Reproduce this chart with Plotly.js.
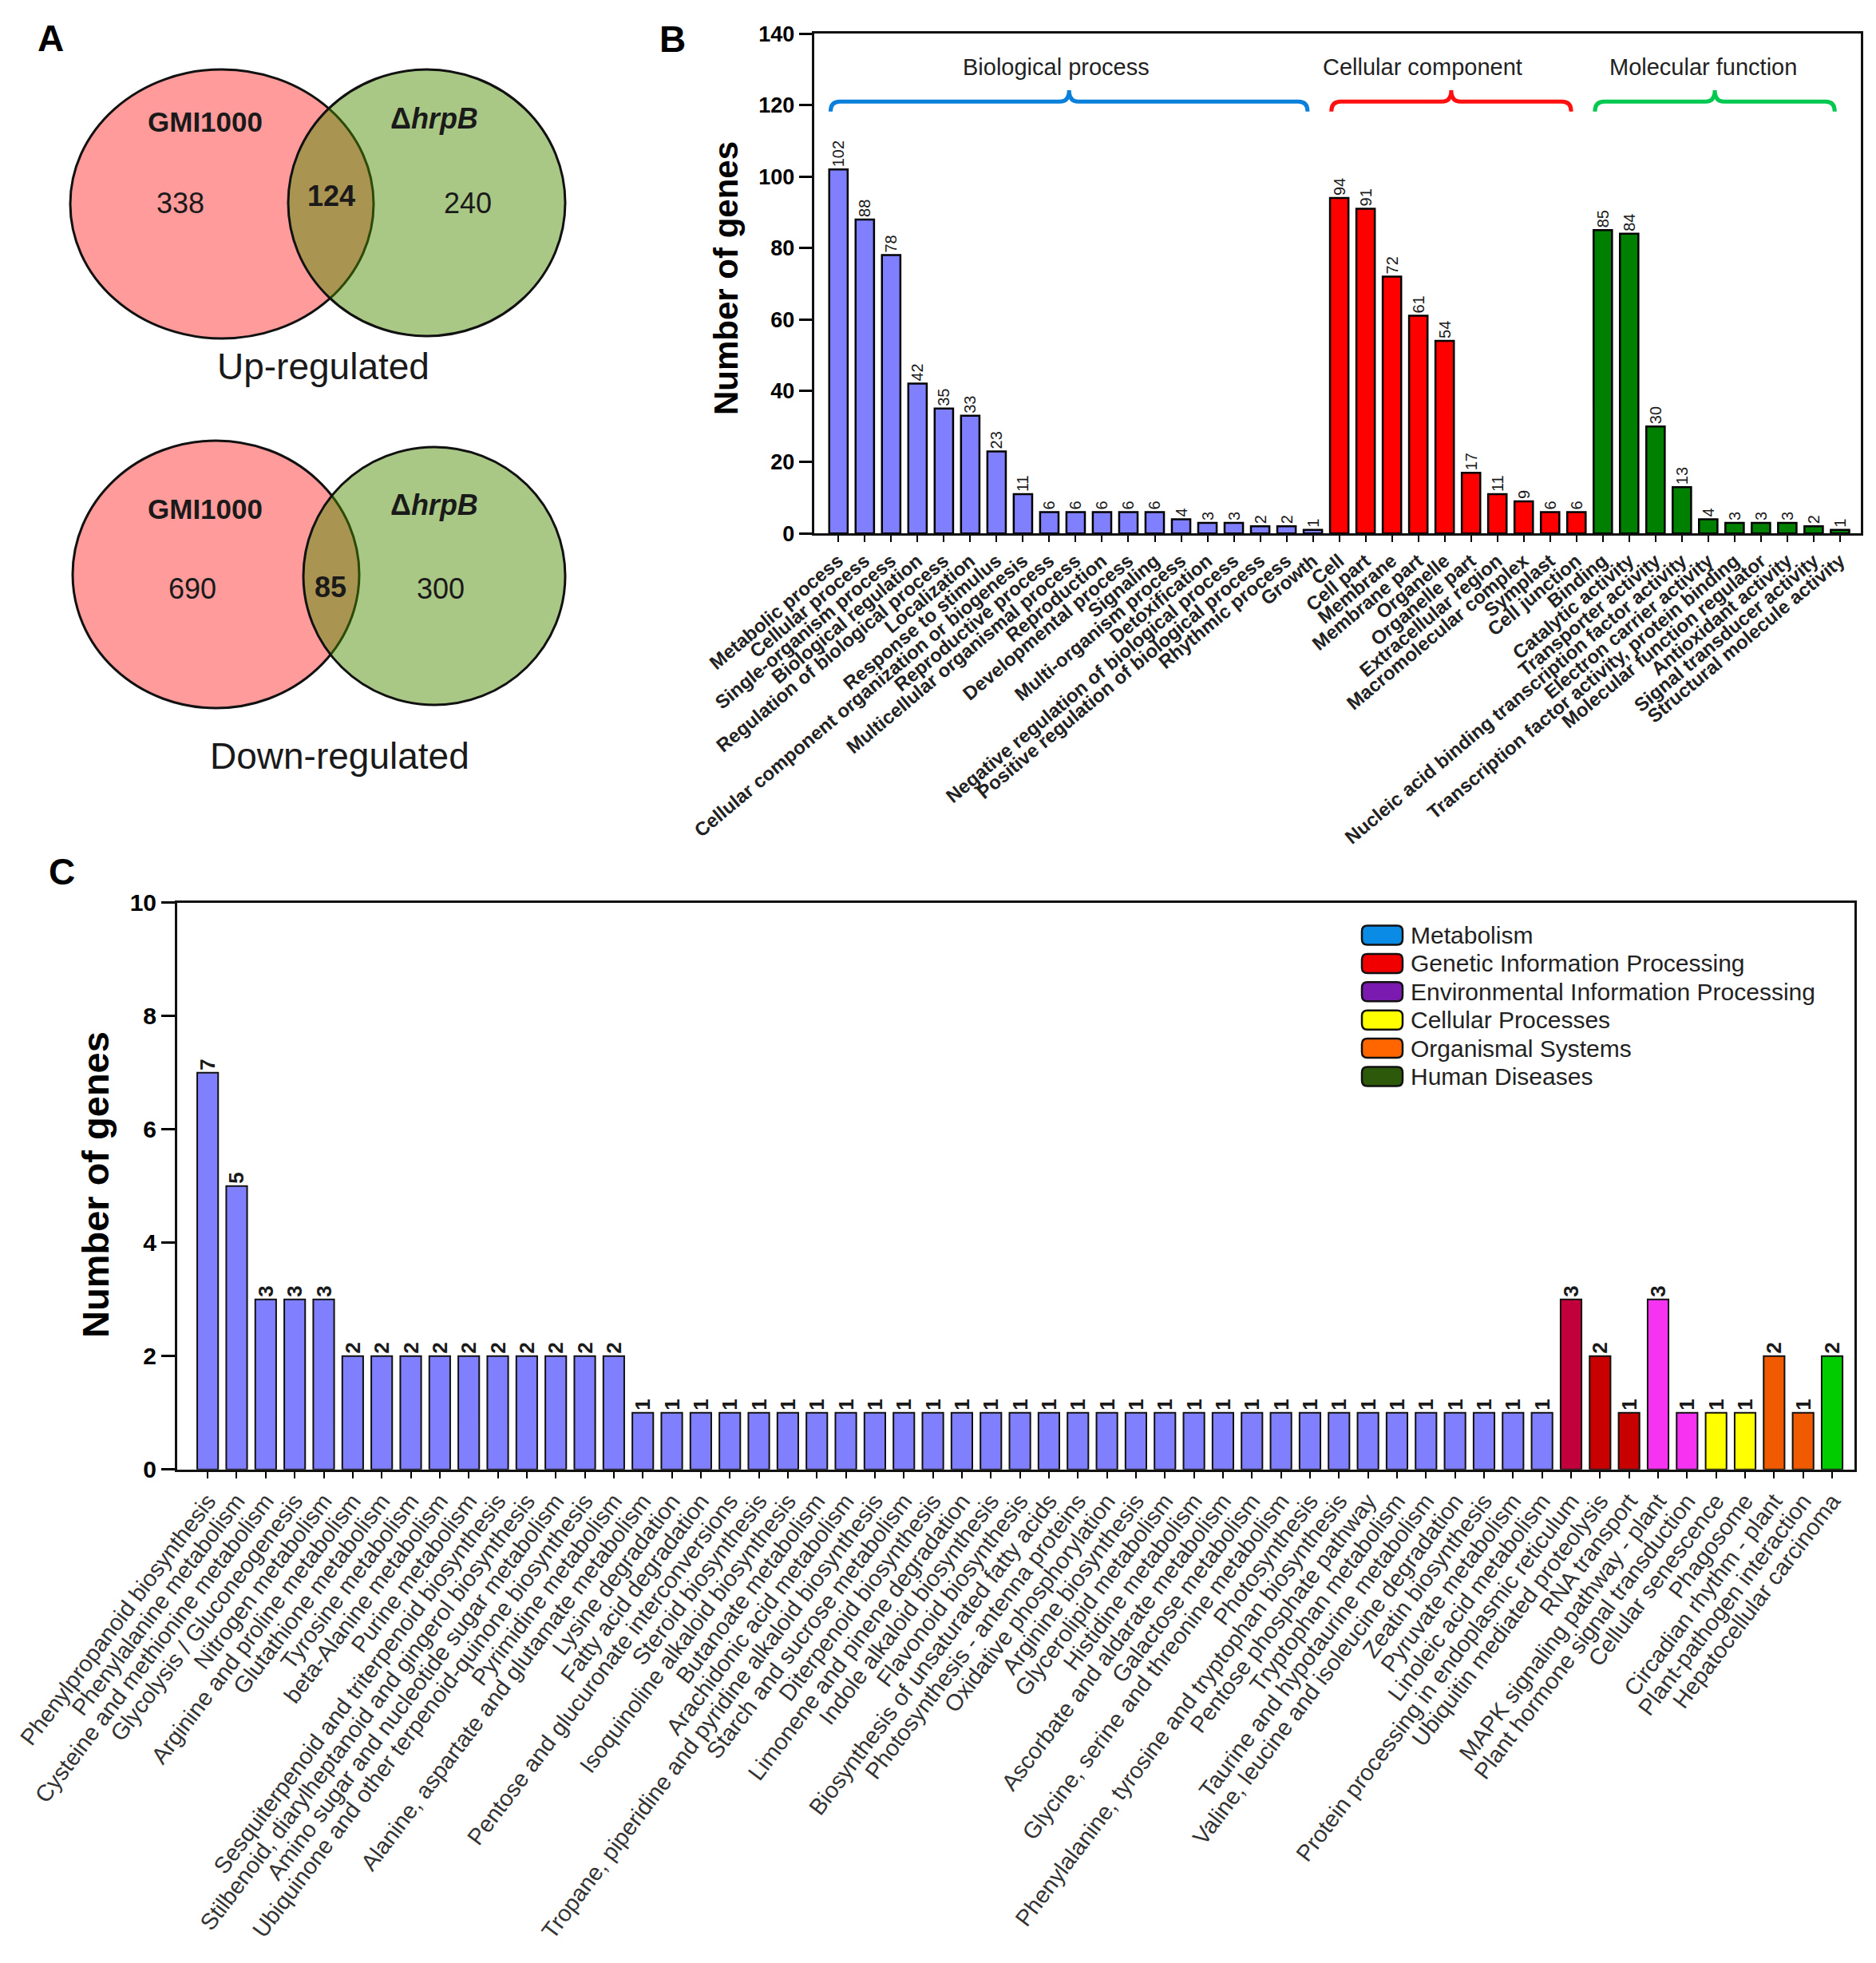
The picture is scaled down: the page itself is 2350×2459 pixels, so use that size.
<!DOCTYPE html>
<html><head><meta charset="utf-8">
<script src="https://cdn.plot.ly/plotly-3.0.1.min.js"></script>
<style>html,body{margin:0;padding:0;background:#fff}#chart{width:2350px;height:2459px}</style>
</head><body><div id="chart"></div>
<script>
// ---------------- DATA ----------------
// Panel A: Venn counts [GMI1000 only, shared, ΔhrpB only]
const vennSetNames = ['GMI1000', 'ΔhrpB'];
const vennUpCounts = [338, 124, 240];
const vennDownCounts = [690, 85, 300];
const vennTitles = ['Up-regulated', 'Down-regulated'];

// Panel B: GO classification
const goGroupNames = ['Biological process', 'Cellular component', 'Molecular function'];
const bpTerms = ['Metabolic process','Cellular process','Single-organism process','Biological regulation',
  'Regulation of biological process','Localization','Response to stimulus',
  'Cellular component organization or biogenesis','Reproductive process','Multicellular organismal process',
  'Reproduction','Developmental process','Signaling','Multi-organism process','Detoxification',
  'Negative regulation of biological process','Positive regulation of biological process','Rhythmic process','Growth'];
const bpCounts = [102, 88, 78, 42, 35, 33, 23, 11, 6, 6, 6, 6, 6, 4, 3, 3, 2, 2, 1];
const ccTerms = ['Cell','Cell part','Membrane','Membrane part','Organelle','Organelle part',
  'Extracellular region','Macromolecular complex','Symplast','Cell junction'];
const ccCounts = [94, 91, 72, 61, 54, 17, 11, 9, 6, 6];
const mfTerms = ['Binding','Catalytic activity','Transporter activity',
  'Nucleic acid binding transcription factor activity','Electron carrier activity',
  'Transcription factor activity, protein binding','Molecular function regulator',
  'Antioxidant activity','Signal transducer activity','Structural molecule activity'];
const mfCounts = [85, 84, 30, 13, 4, 3, 3, 3, 2, 1];

// Panel C: KEGG pathways
const keggPathways = ['Phenylpropanoid biosynthesis','Phenylalanine metabolism','Cysteine and methionine metabolism',
  'Glycolysis / Gluconeogenesis','Nitrogen metabolism','Arginine and proline metabolism','Glutathione metabolism',
  'Tyrosine metabolism','beta-Alanine metabolism','Purine metabolism','Sesquiterpenoid and triterpenoid biosynthesis',
  'Stilbenoid, diarylheptanoid and gingerol biosynthesis','Amino sugar and nucleotide sugar metabolism',
  'Ubiquinone and other terpenoid-quinone biosynthesis','Pyrimidine metabolism',
  'Alanine, aspartate and glutamate metabolism','Lysine degradation','Fatty acid degradation',
  'Pentose and glucuronate interconversions','Steroid biosynthesis','Isoquinoline alkaloid biosynthesis',
  'Butanoate metabolism','Arachidonic acid metabolism','Tropane, piperidine and pyridine alkaloid biosynthesis',
  'Starch and sucrose metabolism','Diterpenoid biosynthesis','Limonene and pinene degradation',
  'Indole alkaloid biosynthesis','Flavonoid biosynthesis','Biosynthesis of unsaturated fatty acids',
  'Photosynthesis - antenna proteins','Oxidative phosphorylation','Arginine biosynthesis','Glycerolipid metabolism',
  'Histidine metabolism','Ascorbate and aldarate metabolism','Galactose metabolism',
  'Glycine, serine and threonine metabolism','Photosynthesis','Phenylalanine, tyrosine and tryptophan biosynthesis',
  'Pentose phosphate pathway','Tryptophan metabolism','Taurine and hypotaurine metabolism',
  'Valine, leucine and isoleucine degradation','Zeatin biosynthesis','Pyruvate metabolism',
  'Linoleic acid metabolism','Protein processing in endoplasmic reticulum','Ubiquitin mediated proteolysis',
  'RNA transport','MAPK signaling pathway - plant','Plant hormone signal transduction','Cellular senescence',
  'Phagosome','Circadian rhythm - plant','Plant-pathogen interaction','Hepatocellular carcinoma'];
const keggCounts = [7,5,3,3,3,2,2,2,2,2,2,2,2,2,2,
  1,1,1,1,1,1,1,1,1,1,1,1,1,1,1,1,1,1,1,1,1,1,1,1,1,1,1,1,1,1,1,1,
  3,2,1,3,1,1,1,2,1,2];
const keggClassNames = ['Metabolism','Genetic Information Processing','Environmental Information Processing',
  'Cellular Processes','Organismal Systems','Human Diseases'];
const keggClassSizes = [47, 3, 2, 2, 2, 1];   // number of pathways of each class, in order

// ---------------- STYLE / GEOMETRY ----------------
const W = 2350, H = 2459;
const px = x => x / W, py = y => 1 - y / H;
const FONT = 'Liberation Sans, Arial, Helvetica, sans-serif';
const INK = '#1a1a1a';
const goColors = ['#8080FF', '#FF0000', '#008000'];
const braceColors = ['#0A80DA', '#FF1010', '#00C850'];
const braceTextShift = [-0.5, -1.1, -0.45];
const keggBarColors = [['#8080FF'], ['#C2003C', '#C80000', '#C80000'], ['#F533F0', '#F533F0'],
  ['#FFFF00', '#FFFF00'], ['#F05A00', '#F05A00'], ['#00CC00']];
const keggLegendColors = ['#0A8CE6', '#F00000', '#7A1AAE', '#FFFF00', '#FF6600', '#2D5A0A'];

// ---------------- TRACES ----------------
const traces = [];
const goTerms = [bpTerms, ccTerms, mfTerms];
const goCounts = [bpCounts, ccCounts, mfCounts];
let start = 0;
const goStarts = [];
goTerms.forEach((terms, g) => {
  const xs = terms.map((_, i) => start + i);
  goStarts.push(start);
  traces.push({
    type: 'bar', x: xs, y: goCounts[g], xaxis: 'x', yaxis: 'y', width: 0.7,
    marker: {color: goColors[g], line: {color: '#000', width: 2.5}},
    text: goCounts[g].map(String), textposition: 'outside', textangle: -90, constraintext: 'none',
    textfont: {family: FONT, size: 20, color: INK}, cliponaxis: false, showlegend: false, hoverinfo: 'x+y'
  });
  start += terms.length;
});
const goAllTerms = [].concat(...goTerms);

let kStart = 0;
keggClassSizes.forEach((n, c) => {
  const idx = Array.from({length: n}, (_, i) => kStart + i);
  traces.push({
    type: 'bar', x: idx, y: idx.map(i => keggCounts[i]), xaxis: 'x2', yaxis: 'y2', width: 0.72,
    marker: {color: idx.map((_, k) => keggBarColors[c][Math.min(k, keggBarColors[c].length - 1)]),
             line: {color: '#111', width: 2}},
    text: idx.map(i => String(keggCounts[i])), textposition: 'outside', textangle: -90, constraintext: 'none',
    textfont: {family: FONT, size: 26, color: INK, weight: 700}, cliponaxis: false, showlegend: false,
    name: keggClassNames[c]
  });
  kStart += n;
});

// ---------------- SHAPES & ANNOTATIONS ----------------
const shapes = [];
const annotations = [];
function label(text, x, y, size, extra) {
  return Object.assign({text: text, xref: 'paper', yref: 'paper', x: px(x), y: py(y), showarrow: false,
    xanchor: 'center', yanchor: 'middle', font: {family: FONT, size: size, color: INK}}, extra || {});
}

// Panel letters
[['A', 63, 48], ['B', 842, 49], ['C', 78, 1092]].forEach(([t, x, y]) =>
  annotations.push(label(t, x, y, 46, {font: {family: FONT, size: 46, color: '#000', weight: 700}})));

// Venn diagrams
const vennGeom = [
  {left: [88, 87, 468, 424], right: [361, 87, 708, 421], s1: [257, 152], s2: [544, 149],
   n: [[226, 255], [415, 246], [586, 255]], title: [405, 459]},
  {left: [91, 552, 450, 887], right: [380, 560, 708, 883], s1: [257, 637], s2: [544, 633],
   n: [[241, 738], [414, 735], [552, 737]], title: [425, 947]}
];
const vennCounts = [vennUpCounts, vennDownCounts];
vennGeom.forEach((g, v) => {
  shapes.push({type: 'circle', xref: 'paper', yref: 'paper', x0: px(g.left[0]), x1: px(g.left[2]),
    y0: py(g.left[3]), y1: py(g.left[1]), fillcolor: '#FF9B9B', line: {color: '#111', width: 3}});
  shapes.push({type: 'circle', xref: 'paper', yref: 'paper', x0: px(g.right[0]), x1: px(g.right[2]),
    y0: py(g.right[3]), y1: py(g.right[1]), fillcolor: 'rgba(78,140,0,0.48)', line: {color: '#111', width: 3}});
  annotations.push(label('<b>' + vennSetNames[0] + '</b>', g.s1[0], g.s1[1], 35));
  annotations.push(label('<b>Δ<i>' + vennSetNames[1].slice(1) + '</i></b>', g.s2[0], g.s2[1], 36));
  vennCounts[v].forEach((c, k) =>
    annotations.push(label(k === 1 ? '<b>' + c + '</b>' : String(c), g.n[k][0], g.n[k][1], 36)));
  annotations.push(label(vennTitles[v], g.title[0], g.title[1], 46));
});

// GO group braces
goTerms.forEach((terms, g) => {
  const x0 = goStarts[g] - 0.3, x1 = goStarts[g] + terms.length - 1 - 0.2, xm = (x0 + x1) / 2;
  const yl = 121, ye = 118.2, yn = 124.2, r = 0.35;
  const path = `M${x0},${ye} Q${x0},${yl} ${x0 + r},${yl} L${xm - r},${yl} Q${xm},${yl} ${xm},${yn} ` +
               `Q${xm},${yl} ${xm + r},${yl} L${x1 - r},${yl} Q${x1},${yl} ${x1},${ye}`;
  shapes.push({type: 'path', xref: 'x', yref: 'y', path: path, line: {color: braceColors[g], width: 5}});
  annotations.push({text: goGroupNames[g], xref: 'x', yref: 'y', x: xm + braceTextShift[g], y: 130.8,
    showarrow: false, xanchor: 'center', yanchor: 'middle', font: {family: FONT, size: 29, color: '#222'}});
});

// Y axis titles
annotations.push(label('<b>Number of genes</b>', 910, 349, 42, {textangle: -90,
  font: {family: FONT, size: 42, color: '#000'}}));
annotations.push(label('<b>Number of genes</b>', 119, 1484, 47, {textangle: -90,
  font: {family: FONT, size: 47, color: '#000'}}));

// KEGG legend (drawn)
function roundRect(x0, y0, x1, y1, r) {
  const P = (x, y) => px(x) + ',' + py(y);
  return `M${P(x0 + r, y0)} L${P(x1 - r, y0)} Q${P(x1, y0)} ${P(x1, y0 + r)} L${P(x1, y1 - r)} ` +
    `Q${P(x1, y1)} ${P(x1 - r, y1)} L${P(x0 + r, y1)} Q${P(x0, y1)} ${P(x0, y1 - r)} L${P(x0, y0 + r)} ` +
    `Q${P(x0, y0)} ${P(x0 + r, y0)} Z`;
}
keggClassNames.forEach((name, c) => {
  const yc = 1171.5 + c * 35.4;
  shapes.push({type: 'path', xref: 'paper', yref: 'paper', path: roundRect(1706, yc - 12, 1757, yc + 12, 7),
    fillcolor: keggLegendColors[c], line: {color: '#111', width: 2.5}});
  annotations.push(label(name, 1765, yc, 30, {xanchor: 'left', font: {family: FONT, size: 30, color: '#222'}}));
});

// ---------------- LAYOUT ----------------
const layout = {
  width: W, height: H, margin: {l: 0, r: 0, t: 0, b: 0}, paper_bgcolor: '#fff', plot_bgcolor: '#fff',
  font: {family: FONT, color: INK}, showlegend: false, bargap: 0.3,
  xaxis: {domain: [px(1019.6), px(2331)], range: [-0.93, 38.79], tickmode: 'array',
    tickvals: goAllTerms.map((_, i) => i), ticktext: goAllTerms, tickangle: -40,
    tickfont: {family: FONT, size: 24, color: '#222', weight: 700}, ticks: 'outside', ticklen: 8, tickwidth: 2,
    tickcolor: '#000', showline: true, linecolor: '#111', linewidth: 3, mirror: true, showgrid: false,
    zeroline: false, fixedrange: true, anchor: 'y'},
  yaxis: {domain: [py(668.3), py(42.4)], range: [0, 140], dtick: 20, tick0: 0, ticks: 'outside', ticklen: 16,
    tickwidth: 3, tickcolor: '#000', tickfont: {family: FONT, size: 27, color: '#000', weight: 700},
    showline: true, linecolor: '#111', linewidth: 3, mirror: true, showgrid: false, zeroline: false, anchor: 'x'},
  xaxis2: {domain: [px(222), px(2323)], range: [-1.05, 56.77], tickmode: 'array',
    tickvals: keggPathways.map((_, i) => i), ticktext: keggPathways, tickangle: -53,
    tickfont: {family: FONT, size: 29, color: '#333'}, ticks: 'outside', ticklen: 8, tickwidth: 2,
    tickcolor: '#000', showline: true, linecolor: '#111', linewidth: 3, mirror: true, showgrid: false,
    zeroline: false, anchor: 'y2'},
  yaxis2: {domain: [py(1840.8), py(1130.6)], range: [0, 10], dtick: 2, tick0: 0, ticks: 'outside', ticklen: 17,
    tickwidth: 3, tickcolor: '#000', tickfont: {family: FONT, size: 30, color: '#000', weight: 700},
    showline: true, linecolor: '#111', linewidth: 3, mirror: true, showgrid: false, zeroline: false, anchor: 'x2'},
  shapes: shapes, annotations: annotations
};

Plotly.newPlot('chart', traces, layout, {staticPlot: true, displayModeBar: false});
</script></body></html>
